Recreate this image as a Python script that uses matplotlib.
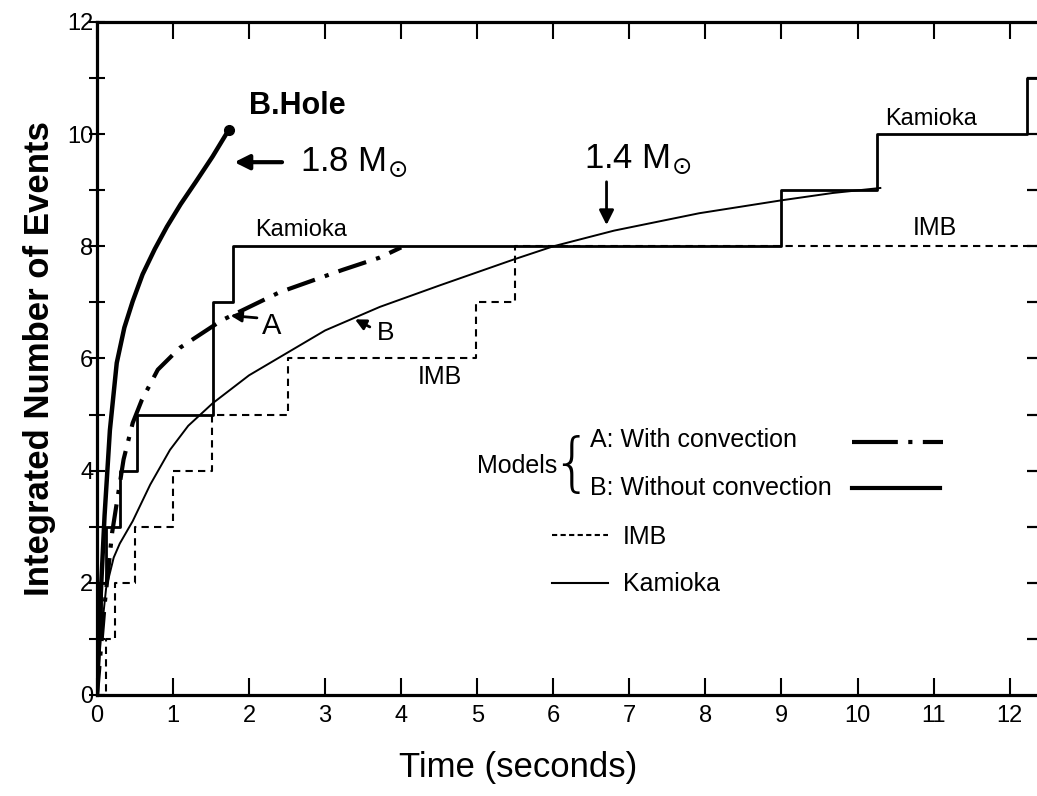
import numpy as np
import matplotlib
matplotlib.use("Agg")
import matplotlib.pyplot as plt
from matplotlib.lines import Line2D

plt.rcParams['font.family'] = ['Liberation Sans', 'DejaVu Sans']

# step data: event times
kam_t = [0.0, 0.05, 0.12, 0.30, 0.53, 1.53, 1.53, 1.79, 9.0, 10.25, 12.23]
imb_t = [0.12, 0.24, 0.50, 1.00, 1.51, 2.51, 4.98, 5.49]

# model curves
bh_t = [0, 0.05, 0.10, 0.17, 0.26, 0.36, 0.47, 0.60, 0.76, 0.92, 1.10, 1.30, 1.52, 1.73]
bh_n = [0, 1.8, 3.2, 4.72, 5.92, 6.55, 7.02, 7.50, 7.95, 8.35, 8.75, 9.15, 9.60, 10.07]

a_t = [0, 0.10, 0.20, 0.35, 0.47, 0.59, 0.80, 1.09, 1.64, 2.40, 3.23, 3.72, 4.00]
a_n = [0, 1.6, 2.9, 4.2, 4.85, 5.26, 5.80, 6.19, 6.68, 7.18, 7.58, 7.80, 7.98]

b_t = [0, 0.05, 0.12, 0.22, 0.30, 0.47, 0.70, 0.96, 1.20, 1.52, 2.0, 2.5, 3.0, 3.72,
       4.5, 5.49, 6.0, 6.8, 7.92, 9.0, 9.67, 10.3]
b_n = [0, 1.0, 1.9, 2.45, 2.70, 3.10, 3.75, 4.37, 4.80, 5.20, 5.70, 6.10, 6.50, 6.92,
       7.30, 7.77, 8.00, 8.28, 8.59, 8.82, 8.95, 9.04]

xmax = 12.36
A_DASH = (7, 2.5, 1, 2.5)

fig = plt.figure(figsize=(10.37, 7.96), dpi=100)
ax = fig.add_axes([0.0935, 0.1269, 0.9065, 0.8455])

kx = [0] + kam_t + [xmax]
ky = [0] + list(range(1, len(kam_t) + 1)) + [len(kam_t)]
ax.step(kx, ky, where='post', color='black', lw=2.0)

ix = [0] + imb_t + [xmax]
iy = [0] + list(range(1, len(imb_t) + 1)) + [len(imb_t)]
ax.step(ix, iy, where='post', color='black', lw=1.5, dashes=(3.5, 2.5))

ax.plot(bh_t, bh_n, color='black', lw=3.2, solid_capstyle='round')
ax.plot(bh_t[-1], bh_n[-1], 'o', color='black', ms=7)
ax.plot(a_t, a_n, color='black', lw=3.0, dashes=A_DASH)
ax.plot(b_t, b_n, color='black', lw=1.4)

ax.set_xlim(0, xmax)
ax.set_ylim(0, 12)
ax.set_xticks(np.arange(13))
ax.set_yticks(np.arange(0, 13, 2))
ax.set_yticks(np.arange(1, 12, 2), minor=True)
ax.tick_params(axis='x', direction='in', length=12, width=1.5, top=True,
               labelsize=17, pad=7)
ax.tick_params(axis='y', which='both', direction='inout', length=11, width=1.5,
               labelsize=17, pad=-3)
for s in ['left', 'bottom', 'top']:
    ax.spines[s].set_linewidth(2.3)
ax.spines['right'].set_visible(False)

sec = ax.secondary_yaxis('right')
sec.set_yticks(np.arange(1, 12))
sec.tick_params(direction='in', length=7, width=1.6, labelright=False)
sec.spines['right'].set_visible(False)

fig.text(518 / 1037, 1 - 768 / 796, 'Time (seconds)', fontsize=25,
         ha='center', va='center')
fig.text(40 / 1037, 1 - 359 / 796, 'Integrated Number of Events', fontsize=25,
         fontweight='bold', rotation=90, ha='center', va='center')

# annotations
ax.text(2.0, 10.5, 'B.Hole', fontsize=22, fontweight='bold', va='center')
ax.annotate('', xy=(1.77, 9.5), xytext=(2.47, 9.5),
            arrowprops=dict(arrowstyle='-|>', color='black', lw=3,
                            mutation_scale=22))
ax.text(2.67, 9.5, r'1.8 M$_{\odot}$', fontsize=25, va='center')
ax.text(6.41, 9.55, r'1.4 M$_{\odot}$', fontsize=25, va='center')
ax.annotate('', xy=(6.70, 8.33), xytext=(6.70, 9.2),
            arrowprops=dict(arrowstyle='-|>', color='black', lw=2,
                            mutation_scale=22))
ax.text(2.08, 8.29, 'Kamioka', fontsize=17, va='center')
ax.text(10.36, 10.27, 'Kamioka', fontsize=17, va='center')
ax.text(10.73, 8.32, 'IMB', fontsize=18, va='center')
ax.text(4.22, 5.67, 'IMB', fontsize=18, va='center')

ax.annotate('', xy=(1.72, 6.77), xytext=(2.14, 6.72),
            arrowprops=dict(arrowstyle='-|>', color='black', lw=2,
                            mutation_scale=16))
ax.text(2.3, 6.58, 'A', fontsize=21, ha='center', va='center')
ax.annotate('', xy=(3.36, 6.72), xytext=(3.62, 6.54),
            arrowprops=dict(arrowstyle='-|>', color='black', lw=2,
                            mutation_scale=16))
ax.text(3.80, 6.45, 'B', fontsize=19, ha='center', va='center')

# model key
ax.text(6.05, 4.08, 'Models', fontsize=18, ha='right', va='center')
ax.text(6.24, 4.08, '{', fontsize=46, ha='center', va='center',
        fontweight='light', family='DejaVu Sans')
ax.text(6.48, 4.55, 'A: With convection', fontsize=18, va='center')
ax.text(6.48, 3.69, 'B: Without convection', fontsize=18, va='center')
ax.add_line(Line2D([9.93, 11.12], [4.51, 4.51], color='black', lw=3.0,
                   dashes=(11, 2.5, 1, 2.5)))
ax.add_line(Line2D([9.93, 11.08], [3.69, 3.69], color='black', lw=3.0))

h2 = [Line2D([], [], color='black', lw=1.5, dashes=(2.5, 1.6)),
      Line2D([], [], color='black', lw=1.5)]
ax.legend(h2, ['IMB', 'Kamioka'], loc='center left',
          bbox_to_anchor=(5.98, 2.40), bbox_transform=ax.transData,
          frameon=False, fontsize=18, handlelength=2.25, handletextpad=0.6,
          labelspacing=0.95, borderpad=0, borderaxespad=0)

fig.savefig('out.png', dpi=100)
